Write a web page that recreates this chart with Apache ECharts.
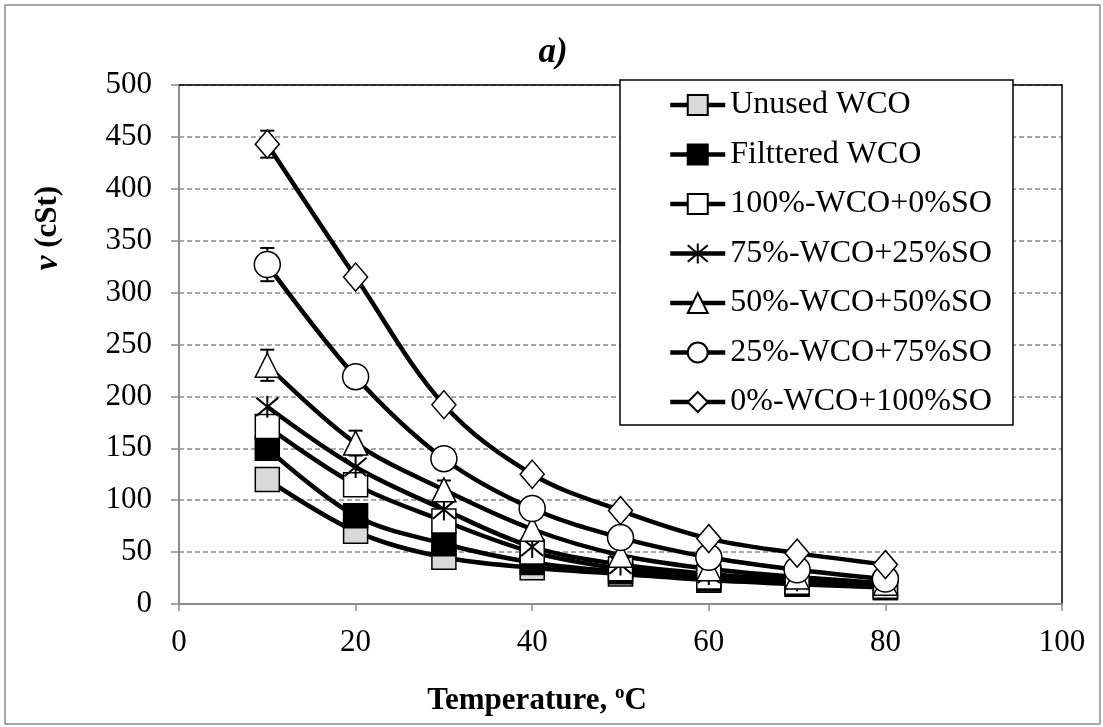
<!DOCTYPE html>
<html>
<head>
<meta charset="utf-8">
<script src="https://cdn.jsdelivr.net/npm/echarts@6/dist/echarts.min.js"></script>
<style>
html,body{margin:0;padding:0;background:#fff;}
#c{width:1103px;height:727px;}
</style>
</head>
<body>
<div id="c"></div>
<script>
// ---- data ----
const temps = [10, 20, 30, 40, 50, 60, 70, 80];
const seriesNames = ['Unused WCO', 'Filttered WCO', '100%-WCO+0%SO', '75%-WCO+25%SO', '50%-WCO+50%SO', '25%-WCO+75%SO', '0%-WCO+100%SO'];
const unusedWCO   = [120, 70, 45, 35, 29, 23, 19, 16];
const filteredWCO = [150, 85, 58, 40, 31, 24, 20, 16];
const wco100      = [171, 115, 80, 50, 34, 26, 21, 17];
const wco75       = [190, 132, 91, 55, 38, 29, 23, 18];
const wco50       = [230, 155, 110, 72, 47, 34, 26, 20];
const wco25       = [327, 219, 140, 92, 64, 45, 33, 24];
const wco0        = [443, 315, 192, 125, 90, 63, 49, 38];
const errUnused   = [0, 0, 0, 0, 0, 0, 0, 0];
const errFiltered = [0, 0, 0, 0, 0, 0, 0, 0];
const err100      = [0, 0, 0, 0, 0, 0, 0, 0];
const err75       = [0, 0, 0, 0, 0, 0, 0, 0];
const err50       = [15, 12, 9, 0, 0, 0, 0, 0];
const err25       = [16, 0, 0, 0, 0, 0, 0, 0];
const err0        = [13, 0, 0, 0, 0, 0, 0, 0];
const xTicks = [0, 20, 40, 60, 80, 100];
const yTicks = [0, 50, 100, 150, 200, 250, 300, 350, 400, 450, 500];

// ---- styling ----
const FONT = '"Liberation Serif", "Times New Roman", serif';
const STAR = 'path://M0,0L20,20M20,0L0,20M10,-2L10,22';
const values = [unusedWCO, filteredWCO, wco100, wco75, wco50, wco25, wco0];
const errors = [errUnused, errFiltered, err100, err75, err50, err25, err0];
const symbols = ['rect', 'rect', 'rect', STAR, 'triangle', 'circle', 'diamond'];
const fills = ['#d9d9d9', '#000000', '#ffffff', '#000000', '#ffffff', '#ffffff', '#ffffff'];
const sizes = [24, 24, 24, 22, 24, 26, [24, 28]];

const series = [];
values.forEach((vals, i) => {
  series.push({
    name: seriesNames[i],
    type: 'line',
    smooth: 0.35,
    data: temps.map((t, j) => [t, vals[j]]),
    symbol: symbols[i],
    symbolSize: sizes[i],
    showAllSymbol: true,
    z: 3,
    lineStyle: {color: '#000', width: 4.5},
    itemStyle: {color: fills[i], borderColor: '#000', borderWidth: i === 3 ? 2 : 1.5},
    emphasis: {disabled: true},
    animation: false
  });
});
// error bars
values.forEach((vals, i) => {
  const d = [];
  temps.forEach((t, j) => { if (errors[i][j] > 0) d.push([t, vals[j] - errors[i][j], vals[j] + errors[i][j]]); });
  series.push({
    type: 'custom',
    z: 2,
    silent: true,
    animation: false,
    data: d,
    renderItem: function (params, api) {
      const lo = api.coord([api.value(0), api.value(1)]);
      const hi = api.coord([api.value(0), api.value(2)]);
      const w = 7;
      const st = {stroke: '#000', lineWidth: 2};
      return {type: 'group', children: [
        {type: 'line', shape: {x1: lo[0], y1: lo[1], x2: hi[0], y2: hi[1]}, style: st},
        {type: 'line', shape: {x1: lo[0] - w, y1: lo[1], x2: lo[0] + w, y2: lo[1]}, style: st},
        {type: 'line', shape: {x1: hi[0] - w, y1: hi[1], x2: hi[0] + w, y2: hi[1]}, style: st}
      ]};
    }
  });
});

const chart = echarts.init(document.getElementById('c'), null, {renderer: 'canvas'});
chart.setOption({
  backgroundColor: '#fff',
  animation: false,
  grid: {left: 179, right: 41, top: 85, bottom: 123, containLabel: false},
  xAxis: [{
    type: 'value', min: xTicks[0], max: xTicks[xTicks.length - 1], interval: xTicks[1] - xTicks[0],
    axisLine: {show: true, onZero: false, lineStyle: {color: '#8c8c8c', width: 2}},
    axisTick: {show: true, length: 7, lineStyle: {color: '#8c8c8c', width: 1.5}},
    axisLabel: {fontFamily: FONT, fontSize: 31, color: '#000', margin: 23},
    splitLine: {show: false}
  }, {
    type: 'value', position: 'top', min: xTicks[0], max: xTicks[xTicks.length - 1],
    axisLine: {show: true, onZero: false, lineStyle: {color: '#000', width: 1.5}},
    axisTick: {show: false}, axisLabel: {show: false}, splitLine: {show: false}
  }],
  yAxis: [{
    type: 'value', min: yTicks[0], max: yTicks[yTicks.length - 1], interval: yTicks[1] - yTicks[0],
    axisLine: {show: true, onZero: false, lineStyle: {color: '#8c8c8c', width: 2}},
    axisTick: {show: true, length: 8, lineStyle: {color: '#8c8c8c', width: 1.5}},
    axisLabel: {fontFamily: FONT, fontSize: 31, color: '#000', margin: 27},
    splitLine: {show: true, lineStyle: {color: '#8c8c8c', width: 1.5, type: [5, 3]}}
  }, {
    type: 'value', position: 'right', min: yTicks[0], max: yTicks[yTicks.length - 1],
    axisLine: {show: true, onZero: false, lineStyle: {color: '#000', width: 1.5}},
    axisTick: {show: false}, axisLabel: {show: false}, splitLine: {show: false}
  }],
  legend: {
    orient: 'vertical',
    left: 668, top: 89,
    padding: 0,
    itemWidth: 55, itemHeight: 25, itemGap: 17.5,
    data: seriesNames,
    lineStyle: {width: 4.5},
    textStyle: {fontFamily: FONT, fontSize: 32, color: '#000', lineHeight: 32},
    selectedMode: false,
    z: 6
  },
  graphic: [
    {type: 'rect', z: 0, silent: true, shape: {x: 5, y: 5, width: 1095, height: 719}, style: {fill: null, stroke: '#8c8c8c', lineWidth: 1.5}},
    {type: 'rect', z: 5, silent: true, shape: {x: 620, y: 80, width: 393, height: 345}, style: {fill: '#fff', stroke: '#000', lineWidth: 1.5}},
    {type: 'text', z: 5, x: 553, y: 53, style: {text: 'a)', font: 'bold italic 35px ' + FONT, fill: '#000', align: 'center', verticalAlign: 'middle'}},
    {type: 'text', z: 5, x: 537, y: 701, style: {
      text: '{b|Temperature, }{s|o}{b|C}', align: 'center', verticalAlign: 'middle',
      rich: {b: {font: 'bold 31px ' + FONT, fill: '#000'}, s: {font: 'bold 19px ' + FONT, fill: '#000', padding: [0, 0, 16, 0]}}
    }},
    {type: 'text', z: 5, x: 48, y: 228, rotation: Math.PI / 2, style: {
      text: '{i|ν}{b| (cSt)}', align: 'center', verticalAlign: 'middle',
      rich: {i: {font: 'bold italic 33px ' + FONT, fill: '#000'}, b: {font: 'bold 31px ' + FONT, fill: '#000'}}
    }}
  ],
  series: series
});
</script>
</body>
</html>
